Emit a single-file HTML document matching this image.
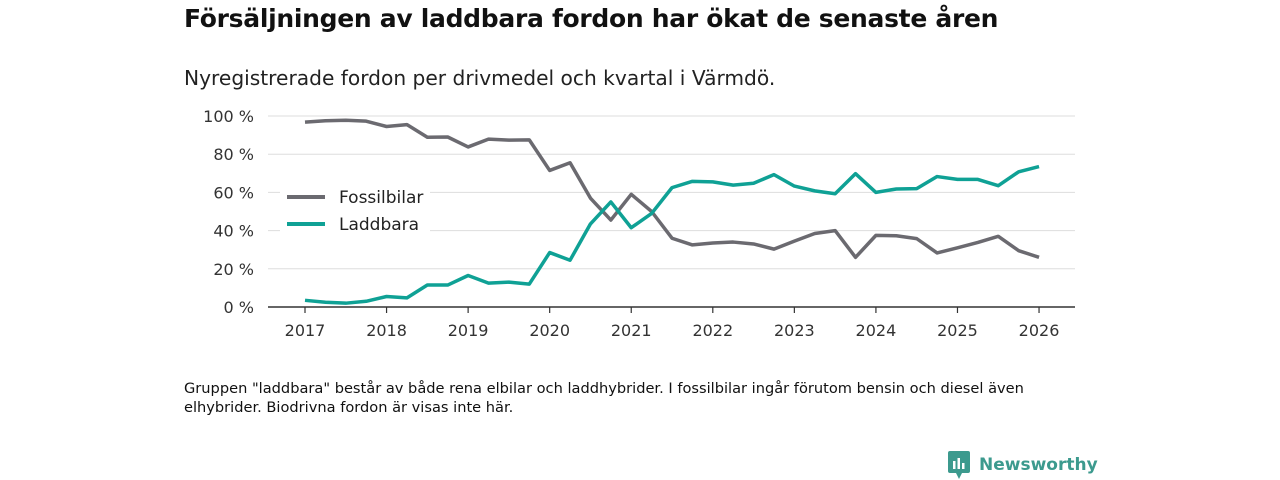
<!DOCTYPE html>
<html><head><meta charset="utf-8"><style>
body{margin:0;width:1280px;height:480px;background:#fff;font-family:"DejaVu Sans","Liberation Sans",sans-serif;color:#111;position:relative;overflow:hidden}
.t{position:absolute;left:184px;top:4px;font-size:25px;font-weight:bold;letter-spacing:-0.3px}
.s{position:absolute;left:184px;top:66px;font-size:20.2px;color:#222}
.f{position:absolute;left:184px;top:379px;font-size:14.6px;line-height:19px;width:900px;color:#111}
.logo{position:absolute;left:948px;top:451px;display:flex;align-items:center;font-size:17px;font-weight:bold;color:#3c9a8e}
</style></head><body>
<div class="t">Försäljningen av laddbara fordon har ökat de senaste åren</div>
<div class="s">Nyregistrerade fordon per drivmedel och kvartal i Värmdö.</div>
<svg id="c" width="1280" height="480" style="position:absolute;left:0;top:0"></svg>
<div class="f">Gruppen "laddbara" består av både rena elbilar och laddhybrider. I fossilbilar ingår förutom bensin och diesel även elhybrider. Biodrivna fordon är visas inte här.</div>
<div class="logo"><svg width="22" height="28" style="margin-right:9px"><rect x="0" y="0" width="22" height="22" rx="2" fill="#3c9a8e"/><polygon points="8,22 14,22 11,28" fill="#3c9a8e"/><rect x="5" y="10" width="2.5" height="8" fill="#fff"/><rect x="9.5" y="7" width="2.5" height="11" fill="#fff"/><rect x="14" y="12" width="2.5" height="6" fill="#fff"/></svg>Newsworthy</div>
<script>
const years=[2017,2018,2019,2020,2021,2022,2023,2024,2025,2026];
const yTicks=[0,20,40,60,80,100];
const fossil=[96.8,97.5,97.8,97.3,94.5,95.5,88.9,89,83.8,87.9,87.4,87.5,71.5,75.5,57,45.5,59,50,36,32.5,33.5,34,33,30.3,34.5,38.5,40,26,37.5,37.3,35.8,28.3,31,33.8,37,29.5,26];
const laddbara=[3.5,2.5,2,3,5.5,4.8,11.5,11.5,16.5,12.5,13,12,28.5,24.5,43.5,55,41.5,49,62.5,65.8,65.5,63.8,64.8,69.3,63.3,60.8,59.3,69.8,60,61.8,62,68.3,66.8,66.8,63.5,70.8,73.5];
const svg=document.getElementById('c');const NS='http://www.w3.org/2000/svg';
const X=t=>305+(t-2017)*81.56;const Y=v=>307-v*1.91;
function el(tag,a){const e=document.createElementNS(NS,tag);for(const k in a)e.setAttribute(k,a[k]);svg.appendChild(e);return e;}
yTicks.forEach(v=>{
 if(v>0){const g=el('line',{x1:268,x2:1075,y1:Y(v),y2:Y(v),stroke:'#ddd','stroke-width':1});
 
 }
 const t=el('text',{x:254,y:Y(v)+6,'text-anchor':'end','font-size':16,fill:'#333'});t.textContent=v+' %';
 
 
});
const ax=el('line',{x1:268,x2:1075,y1:307,y2:307,stroke:'#333','stroke-width':1.5});


years.forEach(y=>{
 el('line',{x1:X(y),x2:X(y),y1:307,y2:313,stroke:'#333','stroke-width':1.2});
 const t=el('text',{x:X(y),y:336,'text-anchor':'middle','font-size':16,fill:'#333'});t.textContent=y;
 
 
});
function line(d,c,n){const p=el('polyline',{points:d.map((v,i)=>X(2017+i/4)+','+Y(v)).join(' '),fill:'none',stroke:c,'stroke-width':3.5,'stroke-linejoin':'round'});
 
 }
line(fossil,'#6b6a70','fossil-line');
line(laddbara,'#0fa195','laddbara-line');
el('rect',{x:280,y:182,width:150,height:52,fill:'#fff'});
[['Fossilbilar','#6b6a70',197],['Laddbara','#0fa195',224]].forEach(([n,c,y])=>{
 const l=el('line',{x1:287,x2:325,y1:y,y2:y,stroke:c,'stroke-width':4});
 
 
 const t=el('text',{x:339,y:y+6,'font-size':17,fill:'#222'});t.textContent=n;
 
 
});
</script>
</body></html>
